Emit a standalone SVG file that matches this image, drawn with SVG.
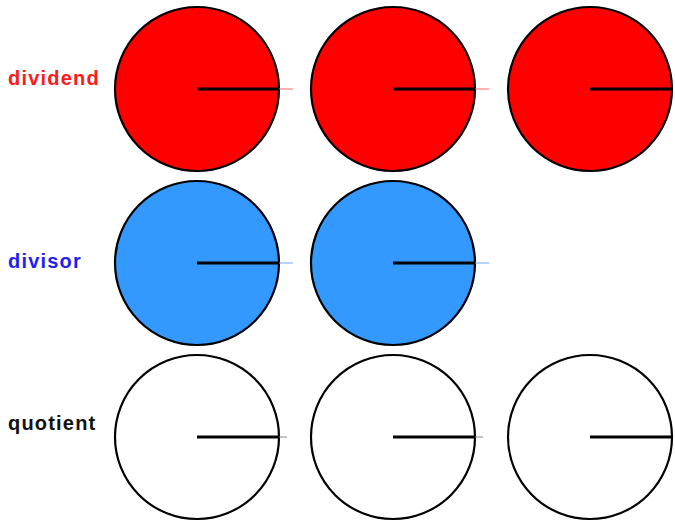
<svg xmlns="http://www.w3.org/2000/svg" width="675" height="523" viewBox="0 0 675 523">
<style>
.c{stroke:#000;stroke-width:2.2}
.r{stroke:#000;stroke-width:3}
.lbl{font-family:"Liberation Sans",Arial,sans-serif;font-weight:bold;font-size:20px;letter-spacing:1.2px}
.red{fill:#ff0000}
.blue{fill:#3399ff}
.white{fill:#ffffff}
</style>
<rect width="675" height="523" fill="#fff"/>
<text class="lbl" x="8" y="85" fill="#ff1a1a">dividend</text>
<text class="lbl" x="8" y="268" fill="#1f1fee">divisor</text>
<text class="lbl" x="8" y="430" fill="#111">quotient</text>
<g id="dividend1"><circle class="c red" cx="197" cy="89" r="82"/><line class="r" x1="197" y1="89" x2="279" y2="89"/><line x1="279" y1="89" x2="293" y2="89" stroke="#ff6666" stroke-width="1"/></g>
<g id="dividend2"><circle class="c red" cx="393" cy="89" r="82"/><line class="r" x1="393" y1="89" x2="475" y2="89"/><line x1="475" y1="89" x2="489" y2="89" stroke="#ff6666" stroke-width="1"/></g>
<g id="dividend3"><circle class="c red" cx="590" cy="89" r="82"/><line class="r" x1="590" y1="89" x2="672" y2="89"/></g>
<g id="divisor1"><circle class="c blue" cx="197" cy="263" r="82"/><line class="r" x1="197" y1="263" x2="279" y2="263"/><line x1="279" y1="263" x2="293" y2="263" stroke="#66aaff" stroke-width="1"/></g>
<g id="divisor2"><circle class="c blue" cx="393" cy="263" r="82"/><line class="r" x1="393" y1="263" x2="475" y2="263"/><line x1="475" y1="263" x2="489" y2="263" stroke="#66aaff" stroke-width="1"/></g>
<g id="quotient1"><circle class="c white" cx="197" cy="437" r="82"/><line class="r" x1="197" y1="437" x2="279" y2="437"/><line x1="279" y1="437" x2="287" y2="437" stroke="#888" stroke-width="1"/></g>
<g id="quotient2"><circle class="c white" cx="393" cy="437" r="82"/><line class="r" x1="393" y1="437" x2="475" y2="437"/><line x1="475" y1="437" x2="483" y2="437" stroke="#888" stroke-width="1"/></g>
<g id="quotient3"><circle class="c white" cx="590" cy="437" r="82"/><line class="r" x1="590" y1="437" x2="672" y2="437"/></g>
<g id="connectors"></g>
</svg>
